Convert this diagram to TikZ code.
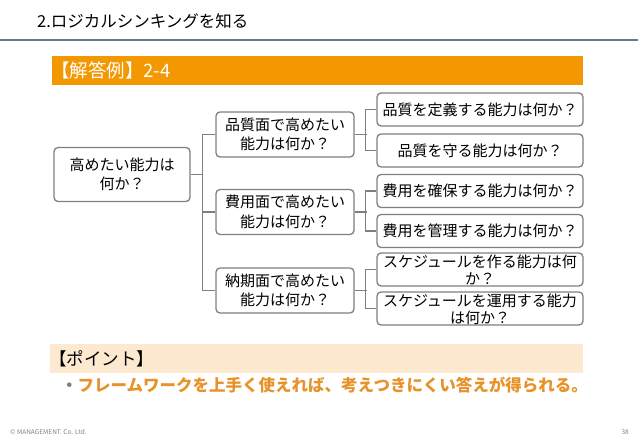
\documentclass[tikz,border=0pt]{standalone}
\usepackage{fontspec}
\setmainfont{Noto Sans CJK JP}
\setsansfont{Noto Sans CJK JP}
\usetikzlibrary{calc}
\definecolor{barorange}{HTML}{F39800}
\definecolor{lightbar}{HTML}{FDE9D0}
\definecolor{titleline}{HTML}{5F7D95}
\definecolor{boxgray}{HTML}{7F7F7F}
\definecolor{pointorange}{HTML}{E8922A}
\definecolor{dotgray}{HTML}{808080}
\tikzset{
  abox/.style={draw=boxgray, line width=1.3pt, rounded corners=4pt, fill=white, inner sep=0pt, align=center, font=\fontsize{15}{19.5}\selectfont},
  rootbox/.style={abox, minimum width=136pt, minimum height=54pt},
  midbox/.style={abox, minimum width=138pt, minimum height=45pt},
  leafbox/.style={abox, minimum width=206pt, minimum height=33pt},
  leaftext/.style={inner sep=0pt, align=center, font=\fontsize{15}{17}\selectfont},
  conn/.style={draw=boxgray, line width=1.3pt},
}
\begin{document}
\begin{tikzpicture}[x=1pt,y=-1pt]
\useasboundingbox (0,0) rectangle (638,442);
% title
\node[anchor=west, inner sep=0pt, font=\fontsize{16.5}{18}\selectfont] (title) at (37,21) {2.ロジカルシンキングを知る};
\draw[titleline, line width=2pt] (0,40) -- (638,40);
% orange bar
\fill[barorange] (52,56) rectangle (583,85);
\node[anchor=west, inner sep=0pt, text=white, font=\fontsize{18.5}{20}\selectfont] (ans) at (51,70.5) {【解答例】2-4};
% root
\node[rootbox] (root) at (122,174.5) {高めたい能力は\\何か？};
% mid
\node[midbox] (m1) at (285,134.5) {品質面で高めたい\\能力は何か？};
\node[midbox] (m2) at (285,212) {費用面で高めたい\\能力は何か？};
\node[midbox] (m3) at (285,290.5) {納期面で高めたい\\能力は何か？};
% leaves
\node[leafbox] (l1) at (480,109.5) {品質を定義する能力は何か？};
\node[leafbox] (l2) at (480,150.5) {品質を守る能力は何か？};
\node[leafbox] (l3) at (480,191) {費用を確保する能力は何か？};
\node[leafbox] (l4) at (480,231) {費用を管理する能力は何か？};
\node[leafbox] (l5) at (480,269.5) {};
\node[leafbox] (l6) at (480,308.5) {};
\node[leaftext] (t5) at (480,270) {スケジュールを作る能力は何\\か？};
\node[leaftext] (t6) at (480,309) {スケジュールを運用する能力\\は何か？};
% connectors
\draw[conn] (root.east) -- ($(root.east)+(12,0)$);
\draw[conn] (m1.west) -- ++(-13,0) |- (m3.west);
\draw[conn] (m2.west) -- ++(-13,0);
\draw[conn] (m1.east) -- ++(12,0);
\draw[conn] (l1.west) -- ++(-11,0) |- (l2.west);
\draw[conn] (m2.east) -- ++(12,0);
\draw[conn] (l3.west) -- ++(-11,0) |- (l4.west);
\draw[conn] (m3.east) -- ++(12,0);
\draw[conn] (l5.west) -- ++(-11,0) |- (l6.west);
% point bar
\fill[lightbar] (50,344) rectangle (583,373);
\node[anchor=west, inner sep=0pt, font=\fontsize{17.5}{19}\selectfont] (pt) at (49,358.5) {【ポイント】};
\node[anchor=west, inner sep=0pt, font=\bfseries\fontsize{16.5}{18}\selectfont] (bul) at (61,385) {\textcolor{dotgray}{・}\textcolor{pointorange}{フレームワークを上手く使えれば、考えつきにくい答えが得られる。}};
% footer
\node[anchor=west, inner sep=0pt, text=dotgray, font=\fontsize{6.5}{7}\selectfont] (copy) at (10,432) {© MANAGEMENT. Co. Ltd.};
\node[anchor=east, inner sep=0pt, text=dotgray, font=\fontsize{6.5}{7}\selectfont] (pg) at (629,432) {38};
\end{tikzpicture}
\end{document}
